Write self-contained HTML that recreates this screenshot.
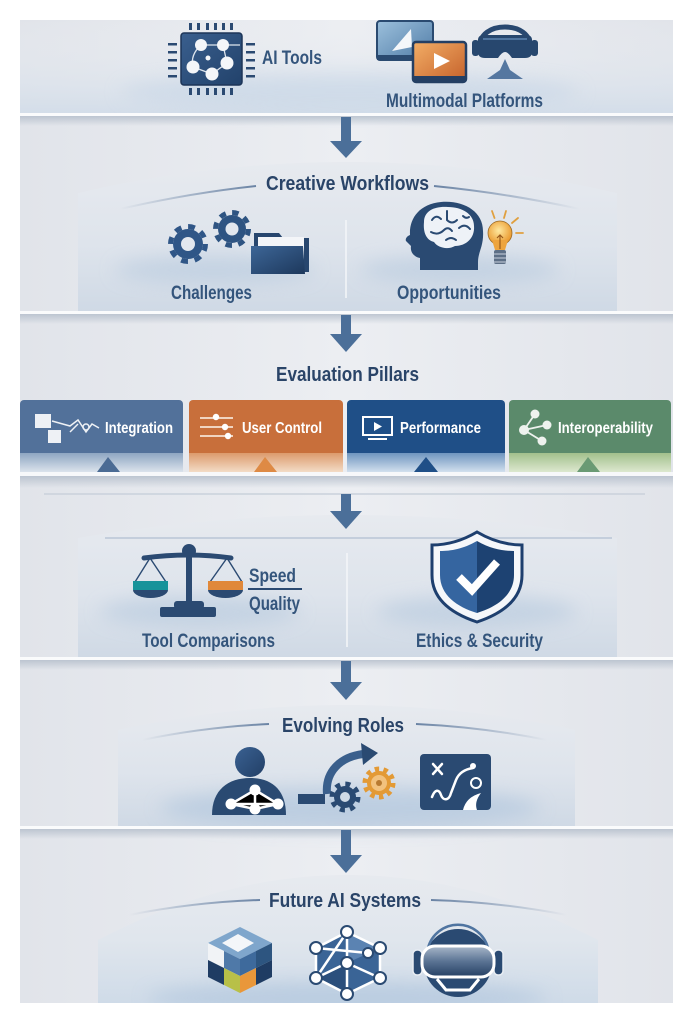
<!DOCTYPE html>
<html><head><meta charset="utf-8"><style>
html,body{margin:0;padding:0;background:#fff;}
svg{display:block;}
text{font-family:"Liberation Sans Narrow","Liberation Sans",sans-serif;}
.h{font-weight:bold;fill:#2a4468;font-size:20px;}
.l{fill:#34557c;font-size:19px;font-weight:bold;}
.p{fill:#fff;font-size:16px;font-weight:bold;}
</style></head><body>
<svg width="693" height="1023" viewBox="0 0 693 1023" xmlns="http://www.w3.org/2000/svg">
<defs>
<clipPath id="main"><rect x="20" y="20" width="653" height="983"/></clipPath>
<linearGradient id="bgH" x1="0" x2="1" y1="0" y2="0">
 <stop offset="0" stop-color="#e1e4ea"/><stop offset=".5" stop-color="#eceef2"/><stop offset="1" stop-color="#e1e4ea"/>
</linearGradient>
<linearGradient id="band1" x1="0" y1="0" x2="0" y2="1">
 <stop offset="0" stop-color="#eef0f3" stop-opacity="0"/><stop offset="1" stop-color="#d3dde9"/>
</linearGradient>
<linearGradient id="panel" x1="0" y1="0" x2="0" y2="1">
 <stop offset="0" stop-color="#e7eaef"/><stop offset=".55" stop-color="#dee4ec"/><stop offset="1" stop-color="#cfd9e5"/>
</linearGradient>
<linearGradient id="panel6" x1="0" y1="0" x2="0" y2="1">
 <stop offset="0" stop-color="#e7eaef"/><stop offset=".5" stop-color="#e0e6ed"/><stop offset="1" stop-color="#cfdbe8"/>
</linearGradient>
<linearGradient id="shadow" x1="0" y1="0" x2="0" y2="1">
 <stop offset="0" stop-color="#b3bdca" stop-opacity=".8"/><stop offset="1" stop-color="#b3bdca" stop-opacity="0"/>
</linearGradient>
<linearGradient id="hl" x1="0" x2="1"><stop offset="0" stop-color="#7088a8" stop-opacity="0"/><stop offset="1" stop-color="#6a83a4"/></linearGradient>
<linearGradient id="hr" x1="0" x2="1"><stop offset="0" stop-color="#6a83a4"/><stop offset="1" stop-color="#7088a8" stop-opacity="0"/></linearGradient>
<linearGradient id="chipG" x1="0" y1="0" x2="1" y2="1"><stop offset="0" stop-color="#3a5f8e"/><stop offset="1" stop-color="#22426b"/></linearGradient>
<linearGradient id="monB" x1="0" y1="0" x2="1" y2="1"><stop offset="0" stop-color="#9cc0dc"/><stop offset="1" stop-color="#4f7ba6"/></linearGradient>
<linearGradient id="monO" x1="0" y1="0" x2="1" y2="1"><stop offset="0" stop-color="#f3ae66"/><stop offset="1" stop-color="#c4602a"/></linearGradient>
<linearGradient id="navy" x1="0" y1="0" x2="1" y2="1"><stop offset="0" stop-color="#3a6192"/><stop offset="1" stop-color="#223f66"/></linearGradient>
<linearGradient id="folderG" x1="0" y1="0" x2="1" y2="1"><stop offset="0" stop-color="#3d6697"/><stop offset="1" stop-color="#1d385c"/></linearGradient>
<radialGradient id="bulbG" cx=".45" cy=".4" r=".6"><stop offset="0" stop-color="#ffe9a0"/><stop offset="1" stop-color="#e9962a"/></radialGradient>
<linearGradient id="shieldG" x1="0" x2="1"><stop offset="0" stop-color="#3565a0"/><stop offset=".5" stop-color="#3565a0"/><stop offset=".5" stop-color="#1d4272"/><stop offset="1" stop-color="#1d4272"/></linearGradient>
<linearGradient id="lensG" x1="0" y1="0" x2="0" y2="1"><stop offset="0" stop-color="#a9b8ca"/><stop offset=".5" stop-color="#5a7393"/><stop offset="1" stop-color="#243f63"/></linearGradient>
<linearGradient id="sI" x1="0" y1="0" x2="0" y2="1"><stop offset="0" stop-color="#8ea6c2"/><stop offset="1" stop-color="#dbe3ec"/></linearGradient>
<linearGradient id="sU" x1="0" y1="0" x2="0" y2="1"><stop offset="0" stop-color="#dc9a6c"/><stop offset="1" stop-color="#f3dcc6"/></linearGradient>
<linearGradient id="sP" x1="0" y1="0" x2="0" y2="1"><stop offset="0" stop-color="#6e95bf"/><stop offset="1" stop-color="#d2e0ee"/></linearGradient>
<linearGradient id="sN" x1="0" y1="0" x2="0" y2="1"><stop offset="0" stop-color="#a2c08c"/><stop offset="1" stop-color="#dde8cf"/></linearGradient>
<filter id="blur" x="-50%" y="-50%" width="200%" height="200%"><feGaussianBlur stdDeviation="9"/></filter>
</defs>

<g clip-path="url(#main)">
<!-- main background -->
<rect x="20" y="20" width="653" height="983" fill="url(#bgH)"/>

<!-- ============ BAND 1 ============ -->
<rect x="20" y="20" width="653" height="94" fill="url(#band1)"/>
<ellipse cx="350" cy="92" rx="230" ry="18" fill="#c6d5e6" opacity=".6" filter="url(#blur)"/>

<!-- chip -->
<g fill="#2b4a72">
 <rect x="189" y="23" width="3" height="7"/><rect x="197" y="23" width="3" height="7"/><rect x="206" y="23" width="3" height="7"/><rect x="214" y="23" width="3" height="7"/><rect x="222" y="23" width="3" height="7"/><rect x="230" y="23" width="3" height="7"/>
 <rect x="189" y="88" width="3" height="7"/><rect x="197" y="88" width="3" height="7"/><rect x="206" y="88" width="3" height="7"/><rect x="214" y="88" width="3" height="7"/><rect x="222" y="88" width="3" height="7"/><rect x="230" y="88" width="3" height="7"/>
 <rect x="168" y="43" width="9" height="2.5"/><rect x="168" y="51" width="9" height="2.5"/><rect x="168" y="59" width="9" height="2.5"/><rect x="168" y="67" width="9" height="2.5"/><rect x="168" y="75" width="9" height="2.5"/>
 <rect x="246" y="43" width="9" height="2.5"/><rect x="246" y="51" width="9" height="2.5"/><rect x="246" y="59" width="9" height="2.5"/><rect x="246" y="67" width="9" height="2.5"/><rect x="246" y="75" width="9" height="2.5"/>
</g>
<rect x="181" y="33" width="61" height="52" rx="3" fill="url(#chipG)" stroke="#1d3558" stroke-width="1.5"/>
<g stroke="#dfe6ee" stroke-width="1.3" fill="none">
 <path d="M201,45 L223,45 L240,45"/><path d="M201,45 Q190,55 193,67"/><path d="M193,67 L212,74 L227,63 L223,45"/>
</g>
<g fill="#f4f6f9">
 <circle cx="201" cy="45" r="6"/><circle cx="223" cy="45" r="6"/><circle cx="193" cy="67" r="6.5"/><circle cx="227" cy="63" r="6.5"/><circle cx="212" cy="74" r="6.5"/><circle cx="208" cy="58" r="2.5"/>
</g>
<text class="l" x="262" y="64" textLength="60" lengthAdjust="spacingAndGlyphs">AI Tools</text>

<!-- monitors -->
<rect x="377" y="21" width="56" height="39" rx="3" fill="url(#monB)" stroke="#2a4a70" stroke-width="2"/>
<rect x="377" y="55" width="56" height="5" fill="#2a4a70"/>
<polygon points="392,51 411,29 412,47" fill="#f4f7fa"/>
<rect x="413" y="42" width="53" height="40" rx="3" fill="url(#monO)" stroke="#243f63" stroke-width="2.5"/>
<rect x="413" y="76" width="53" height="6" fill="#243f63"/>
<polygon points="434,53 434,69 450,61" fill="#fff"/>
<!-- VR headset -->
<path d="M479,50 C479,33 492,27 505,27 C518,27 531,33 531,50" fill="none" stroke="#284870" stroke-width="5"/>
<path d="M478,40 Q478,35 484,35 L526,35 Q532,35 532,40 L532,52 Q532,58 525,58 L512,58 Q508,52 505,52 Q502,52 498,58 L485,58 Q478,58 478,52 Z" fill="#27476e"/>
<path d="M483,39 L527,39" stroke="#4f75a0" stroke-width="2"/>
<rect x="472" y="40" width="7" height="16" rx="3" fill="#27476e"/>
<rect x="531" y="40" width="7" height="16" rx="3" fill="#27476e"/>
<polygon points="505,59 500,70 487,79 523,79 510,70" fill="#5577a0"/>
<text class="l" x="386" y="107" textLength="157" lengthAdjust="spacingAndGlyphs">Multimodal Platforms</text>

<!-- divider 1 -->
<rect x="20" y="113" width="653" height="3" fill="#fafbfc"/>
<rect x="20" y="116" width="653" height="10" fill="url(#shadow)"/>

<!-- ============ PANEL 2 ============ -->
<path d="M78,312 L78,193 Q347,131 617,193 L617,312 Z" fill="url(#panel)"/>
<ellipse cx="215" cy="270" rx="100" ry="14" fill="#bccde0" opacity=".7" filter="url(#blur)"/>
<ellipse cx="460" cy="270" rx="100" ry="14" fill="#bccde0" opacity=".7" filter="url(#blur)"/>
<path d="M120,209 Q190,193 256,186" fill="none" stroke="url(#hl)" stroke-width="2"/>
<path d="M434,186 Q505,193 580,209" fill="none" stroke="url(#hr)" stroke-width="2"/>
<text class="h" x="266" y="190" textLength="163" lengthAdjust="spacingAndGlyphs">Creative Workflows</text>
<line x1="346" y1="220" x2="346" y2="298" stroke="#f4f6f9" stroke-width="1.5"/>

<!-- gears -->
<g fill="#2e5482">
 <circle cx="232" cy="229" r="14"/>
 <circle cx="232" cy="229" r="16.5" fill="none" stroke="#2e5482" stroke-width="5" stroke-dasharray="6.5 6.46"/>
</g>
<circle cx="232" cy="229" r="6.5" fill="#e2e7ee"/>
<g fill="#2f5687">
 <circle cx="188" cy="244" r="15"/>
 <circle cx="188" cy="244" r="17.5" fill="none" stroke="#2f5687" stroke-width="5" stroke-dasharray="6.9 6.84"/>
</g>
<circle cx="188" cy="244" r="7" fill="#e2e7ee"/>
<!-- folder -->
<path d="M254,272 L254,233 L279,233 L283,238 L309,238 L309,272 Z" fill="#27466e"/>
<rect x="258" y="237" width="46" height="26" fill="#f3f5f8"/>
<polygon points="251,246 303,246 305,274 251,274" fill="url(#folderG)"/>
<text class="l" x="171" y="299" textLength="81" lengthAdjust="spacingAndGlyphs">Challenges</text>

<!-- brain head -->
<path d="M420,270 L420,258 C414,257 410,252 411,246 L406,241 C405,239 407,236 410,235 C409,219 419,204 441,202 C463,200 483,211 483,231 C484,246 478,252 478,262 L478,270 Z" fill="#2a4a72"/>
<path d="M424,222 C424,210 436,206 448,207 C462,207 474,214 474,226 C475,238 466,246 455,246 C448,250 438,248 434,242 C426,240 423,232 424,222 Z" fill="#eef2f7"/>
<g stroke="#2a4a72" stroke-width="2" fill="none" stroke-linecap="round">
 <path d="M432,220 q4,-6 9,-1"/><path d="M447,211 v9 q5,5 10,0"/><path d="M431,232 q7,4 13,-2 q4,-4 8,1"/><path d="M459,228 q6,-5 11,1"/><path d="M446,240 q5,-4 10,0"/><path d="M463,216 q3,3 6,1"/>
</g>
<!-- bulb -->
<g stroke="#e0a040" stroke-width="1.8" stroke-linecap="round">
 <line x1="494.5" y1="218" x2="492" y2="211"/><line x1="504" y1="218" x2="506" y2="211"/><line x1="512" y1="223" x2="518" y2="218"/><line x1="516" y1="233" x2="523" y2="233"/>
</g>
<circle cx="500" cy="233" r="12" fill="url(#bulbG)" stroke="#9a6a25" stroke-width=".8"/>
<path d="M492,240 L495,250 L505,250 L508,240 Z" fill="#eda43e"/>
<path d="M500,249 L500,235 M497,238 L500,235 L503,238" stroke="#9a5a1a" stroke-width="1.2" fill="none"/>
<rect x="494" y="250" width="12" height="14" rx="2" fill="#5d6f86"/>
<g stroke="#c9d2dd" stroke-width="1"><line x1="494" y1="254" x2="506" y2="254"/><line x1="494" y1="258" x2="506" y2="258"/><line x1="494" y1="262" x2="506" y2="262"/></g>
<text class="l" x="397" y="299" textLength="104" lengthAdjust="spacingAndGlyphs">Opportunities</text>

<!-- divider 2 -->
<rect x="20" y="311" width="653" height="3" fill="#fafbfc"/>
<rect x="20" y="314" width="653" height="10" fill="url(#shadow)"/>

<!-- ============ PILLARS ============ -->
<line x1="44" y1="374" x2="261" y2="374" stroke="url(#hl)" stroke-width="1.5"/>
<line x1="429" y1="374" x2="645" y2="374" stroke="url(#hr)" stroke-width="1.5"/>
<text class="h" x="276" y="381" textLength="143" lengthAdjust="spacingAndGlyphs">Evaluation Pillars</text>

<rect x="20" y="400" width="163" height="72" rx="4" fill="#52719a"/>
<rect x="20" y="453" width="163" height="19" fill="url(#sI)"/>
<polygon points="97,472 108,457 120,472" fill="#4b6b94"/>
<rect x="189" y="400" width="154" height="72" rx="4" fill="#c86f3b"/>
<rect x="189" y="453" width="154" height="19" fill="url(#sU)"/>
<polygon points="254,472 265,457 277,472" fill="#de8a45"/>
<rect x="347" y="400" width="158" height="72" rx="4" fill="#1f4f87"/>
<rect x="347" y="453" width="158" height="19" fill="url(#sP)"/>
<polygon points="414,472 426,457 438,472" fill="#1f4f87"/>
<rect x="509" y="400" width="162" height="72" rx="4" fill="#5b8a6b"/>
<rect x="509" y="453" width="162" height="19" fill="url(#sN)"/>
<polygon points="577,472 588,457 600,472" fill="#6a9a74"/>

<!-- integration icon -->
<rect x="35" y="414" width="16" height="14" fill="#eef1f5"/>
<rect x="48" y="430" width="13" height="13" fill="#eef1f5"/>
<g stroke="#eef1f5" stroke-width="1.5" fill="none">
 <path d="M52,421 L70,426 L78,420 L86,432 L92,424 L99,428"/><path d="M70,432 L78,424"/>
 <circle cx="86" cy="427" r="3"/>
</g>
<text class="p" x="105" y="433" textLength="68" lengthAdjust="spacingAndGlyphs">Integration</text>
<!-- user control icon -->
<g stroke="#f6e3d4" stroke-width="1.8"><line x1="200" y1="418" x2="233" y2="418"/><line x1="200" y1="427" x2="233" y2="427"/><line x1="200" y1="436" x2="233" y2="436"/></g>
<g fill="#fff"><circle cx="216" cy="417" r="3.2"/><circle cx="225" cy="427" r="3.2"/><circle cx="228" cy="436" r="3.2"/></g>
<text class="p" x="242" y="433" textLength="80" lengthAdjust="spacingAndGlyphs">User Control</text>
<!-- performance icon -->
<rect x="363" y="417" width="29" height="18" fill="none" stroke="#fff" stroke-width="2"/>
<polygon points="374,422 374,431 382,426.5" fill="#fff"/>
<rect x="368" y="438" width="19" height="2" fill="#fff"/>
<text class="p" x="400" y="433" textLength="81" lengthAdjust="spacingAndGlyphs">Performance</text>
<!-- interop icon -->
<g stroke="#eef2ee" stroke-width="1.8"><line x1="524" y1="430" x2="535" y2="414"/><line x1="524" y1="430" x2="547" y2="425"/><line x1="524" y1="430" x2="542" y2="441"/></g>
<g fill="#eef2ee"><circle cx="524" cy="430" r="5"/><circle cx="535" cy="414" r="4.5"/><circle cx="547" cy="425" r="4.5"/><circle cx="542" cy="441" r="4.5"/></g>
<text class="p" x="558" y="433" textLength="95" lengthAdjust="spacingAndGlyphs">Interoperability</text>

<!-- baseline -->
<rect x="20" y="472" width="653" height="4" fill="#f7f8fa"/>
<rect x="20" y="476" width="653" height="12" fill="url(#shadow)"/>
<line x1="44" y1="494" x2="645" y2="494" stroke="#c9d1db" stroke-width="1.5"/>

<!-- ============ PANEL 4 ============ -->
<path d="M78,658 L78,538 Q347,492 617,538 L617,658 Z" fill="url(#panel)"/>
<line x1="105" y1="538" x2="612" y2="538" stroke="#bac6d5" stroke-width="1.5"/>
<ellipse cx="200" cy="612" rx="100" ry="16" fill="#bccde0" opacity=".7" filter="url(#blur)"/>
<ellipse cx="477" cy="612" rx="100" ry="16" fill="#bccde0" opacity=".7" filter="url(#blur)"/>
<line x1="347" y1="553" x2="347" y2="647" stroke="#f4f6f9" stroke-width="1.5"/>
<!-- scale -->
<g stroke="#2b4a72" stroke-width="1.4" fill="none">
 <path d="M150,558 L135,582 M150,558 L166,582 M227,558 L210,582 M227,558 L242,582"/>
</g>
<path d="M144,558 Q189,552 231,558" stroke="#2b4a72" stroke-width="5" fill="none" stroke-linecap="round"/>
<circle cx="189" cy="551" r="7" fill="#2b4a72"/>
<rect x="186" y="555" width="6" height="50" fill="#2b4a72"/>
<rect x="174" y="601" width="30" height="8" rx="3" fill="#2b4a72"/>
<rect x="160" y="607" width="56" height="10" rx="2" fill="#2b4a72"/>
<rect x="133" y="581" width="35" height="9" fill="#17939a"/>
<path d="M133,590 A17.5,8 0 0 0 168,590 Z" fill="#2b4a72"/>
<rect x="208" y="581" width="35" height="9" fill="#e0883a"/>
<path d="M208,590 A17.5,8 0 0 0 243,590 Z" fill="#2b4a72"/>
<text class="l" x="249" y="582" textLength="47" lengthAdjust="spacingAndGlyphs">Speed</text>
<line x1="248" y1="589" x2="302" y2="589" stroke="#2b4a72" stroke-width="2"/>
<text class="l" x="249" y="610" textLength="51" lengthAdjust="spacingAndGlyphs">Quality</text>
<text class="l" x="142" y="647" textLength="133" lengthAdjust="spacingAndGlyphs">Tool Comparisons</text>
<!-- shield -->
<path d="M477,532 C494,542 509,545 522,545 L522,575 C522,600 501,614 477,622 C453,614 432,600 432,575 L432,545 C445,545 460,542 477,532 Z" fill="#f5f7fa" stroke="#1e3f6e" stroke-width="3"/>
<path d="M477,541 C491,549 503,551 514,551 L514,575 C514,595 497,607 477,613 C457,607 440,595 440,575 L440,551 C451,551 463,549 477,541 Z" fill="url(#shieldG)"/>
<polyline points="459,577 472,590 497,562" fill="none" stroke="#fff" stroke-width="8"/>
<text class="l" x="416" y="647" textLength="127" lengthAdjust="spacingAndGlyphs">Ethics &amp; Security</text>

<!-- divider 4 -->
<rect x="20" y="657" width="653" height="3" fill="#fafbfc"/>
<rect x="20" y="660" width="653" height="10" fill="url(#shadow)"/>

<!-- ============ PANEL 5 ============ -->
<path d="M118,827 L118,730 Q346,680 575,730 L575,827 Z" fill="url(#panel)"/>
<ellipse cx="350" cy="808" rx="190" ry="20" fill="#b5c9df" opacity=".75" filter="url(#blur)"/>
<path d="M142,740 Q205,727 269,724" fill="none" stroke="url(#hl)" stroke-width="2"/>
<path d="M416,724 Q482,727 547,740" fill="none" stroke="url(#hr)" stroke-width="2"/>
<text class="h" x="282" y="732" textLength="122" lengthAdjust="spacingAndGlyphs">Evolving Roles</text>
<!-- person -->
<circle cx="250" cy="762" r="15" fill="url(#navy)"/>
<path d="M212,815 C212,790 228,778 250,778 C272,778 286,790 286,815 Z" fill="#2a4a72"/>
<g stroke="#fff" stroke-width="2.5"><path d="M255,790 L231,804 L278,804 Z M231,804 L255,809 L278,804 M255,790 L255,809"/></g>
<g fill="#fff"><circle cx="255" cy="790" r="5.5"/><circle cx="231" cy="804" r="5.5"/><circle cx="255" cy="809" r="5.5"/><circle cx="278" cy="804" r="5.5"/></g>
<!-- bar, arrow, gears -->
<rect x="298" y="794" width="27" height="10" fill="#2a4a72"/>
<path d="M327,794 C325,772 340,757 363,754" fill="none" stroke="#3a5f8c" stroke-width="8"/>
<polygon points="361,743 378,753 363,765" fill="#2a4a72"/>
<circle cx="345" cy="797" r="11" fill="#2a4a72"/>
<circle cx="345" cy="797" r="13" fill="none" stroke="#2a4a72" stroke-width="5" stroke-dasharray="5 5.2"/>
<circle cx="345" cy="797" r="5" fill="#cfdae6"/>
<circle cx="379" cy="783" r="12" fill="#e39a35"/>
<circle cx="379" cy="783" r="14" fill="none" stroke="#e39a35" stroke-width="5" stroke-dasharray="4.4 4.4"/>
<circle cx="379" cy="783" r="8" fill="#f2c27e"/>
<circle cx="379" cy="783" r="3" fill="#b87a30"/>
<!-- board -->
<rect x="420" y="754" width="71" height="56" rx="4" fill="#2a4a72"/>
<g stroke="#fff" stroke-width="2.5" stroke-linecap="round" fill="none">
 <path d="M433,764 L442,774 M442,764 L433,774"/>
 <path d="M432,797 c3,-8 7,-8 9,-2 c2,6 8,6 10,-2 L456,780 Q460,770 473,768"/>
</g>
<circle cx="473" cy="766" r="3" fill="#fff"/>
<circle cx="476" cy="783" r="5" fill="none" stroke="#fff" stroke-width="2"/>
<path d="M463,810 Q466,797 481,793 Q474,802 477,810 Z" fill="#fff"/>

<!-- divider 5 -->
<rect x="20" y="826" width="653" height="3" fill="#fafbfc"/>
<rect x="20" y="829" width="653" height="10" fill="url(#shadow)"/>

<!-- ============ PANEL 6 ============ -->
<path d="M98,1003 L98,940 Q347,810 598,940 L598,1003 Z" fill="url(#panel6)"/>
<ellipse cx="347" cy="998" rx="200" ry="16" fill="#b5c9df" opacity=".8" filter="url(#blur)"/>
<path d="M129,915 Q195,902 260,900" fill="none" stroke="url(#hl)" stroke-width="2"/>
<path d="M431,900 Q500,902 567,915" fill="none" stroke="url(#hr)" stroke-width="2"/>
<text class="h" x="269" y="907" textLength="152" lengthAdjust="spacingAndGlyphs">Future AI Systems</text>
<!-- cube -->
<polygon points="240,927 272,943 240,959 208,943" fill="#7fa6cc"/>
<polygon points="238,934 254,943 238,952 222,943" fill="#f4f6f9"/>
<polygon points="208,943 224,951 224,968 208,960" fill="#f1f3f6"/>
<polygon points="208,960 224,968 224,985 208,977" fill="#1f3c63"/>
<polygon points="224,951 240,959 240,976 224,968" fill="#4f79a8"/>
<polygon points="224,968 240,976 240,993 224,985" fill="#b8c048"/>
<polygon points="240,959 256,951 256,968 240,976" fill="#3e6a9c"/>
<polygon points="256,951 272,943 272,960 256,968" fill="#2d5580"/>
<polygon points="240,976 256,968 256,985 240,993" fill="#e9973a"/>
<polygon points="256,968 272,960 272,977 256,985" fill="#1f3c63"/>
<!-- network hex -->
<polygon points="347,932 380,948 380,978 347,994 316,978 316,948" fill="#3a6496"/>
<polygon points="347,932 380,948 347,963" fill="#5b83b2"/>
<polygon points="316,978 347,963 347,994" fill="#2b4f7c"/>
<g stroke="#fff" stroke-width="2.5" fill="none">
 <polygon points="347,932 380,948 380,978 347,994 316,978 316,948"/>
 <path d="M347,932 L347,994 M316,948 L368,953 M316,978 L347,963 L380,978 M347,932 L316,978"/>
</g>
<g fill="#fff" stroke="#2a4a72" stroke-width="2">
 <circle cx="347" cy="932" r="6"/><circle cx="380" cy="948" r="6"/><circle cx="380" cy="978" r="6"/><circle cx="347" cy="994" r="6"/><circle cx="316" cy="978" r="6"/><circle cx="316" cy="948" r="6"/><circle cx="347" cy="963" r="6"/><circle cx="368" cy="953" r="5"/>
</g>
<!-- helmet -->
<circle cx="458" cy="963" r="34" fill="#2a4a72"/>
<path d="M428,948 A31,31 0 0 1 488,948" fill="none" stroke="#4f74a0" stroke-width="2.5"/>
<rect x="413" y="950" width="9" height="25" rx="4" fill="#2a4a72" stroke="#e8edf3" stroke-width="1.5"/>
<rect x="494" y="950" width="9" height="25" rx="4" fill="#2a4a72" stroke="#e8edf3" stroke-width="1.5"/>
<rect x="422" y="946" width="72" height="31" rx="13" fill="url(#lensG)" stroke="#fff" stroke-width="3"/>
<path d="M437,979 L446,990 L470,990 L479,979" fill="none" stroke="#fff" stroke-width="3"/>

<!-- ============ ARROWS (on top) ============ -->
<g fill="#4b6f99">
 <rect x="341" y="117" width="10" height="25"/><polygon points="330,141 362,141 346,158"/>
 <rect x="341" y="315" width="10" height="20"/><polygon points="330,334 362,334 346,352"/>
 <rect x="341" y="494" width="10" height="18"/><polygon points="330,511 362,511 346,529"/>
 <rect x="341" y="661" width="10" height="22"/><polygon points="330,682 362,682 346,700"/>
 <rect x="341" y="830" width="10" height="26"/><polygon points="330,855 362,855 346,873"/>
</g>
</g>
</svg>
</body></html>
